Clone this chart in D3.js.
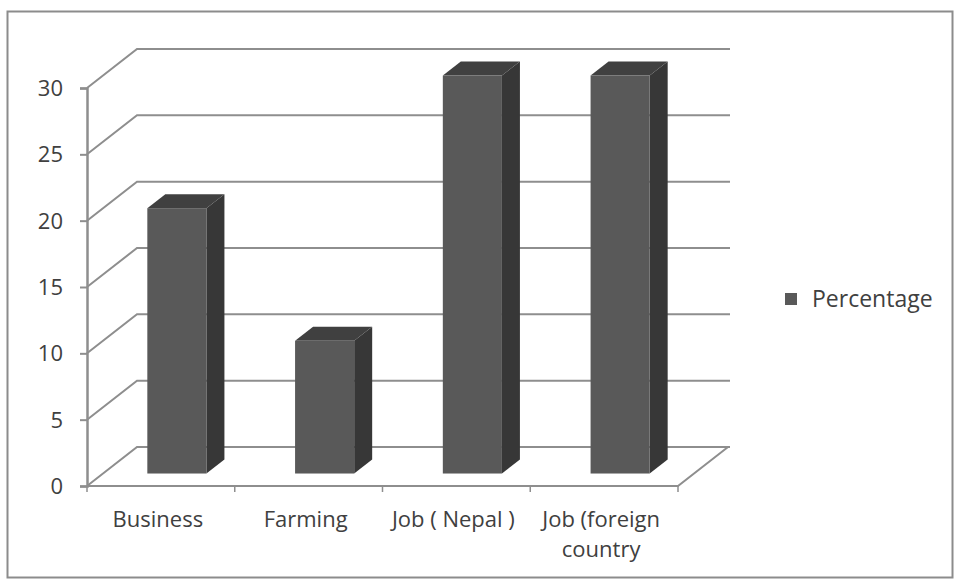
<!DOCTYPE html>
<html>
<head>
<meta charset="utf-8">
<script src="https://cdn.jsdelivr.net/npm/d3@7"></script>
<style>
  html, body { margin: 0; padding: 0; background: #fff; }
  svg { display: block; }
  text { font-family: "Open Sans", "Noto Sans", sans-serif; fill: #404040; }
</style>
</head>
<body>
<svg id="chart" width="955" height="582"></svg>
<script>
// Chart data
const categories = ["Business", "Farming", "Job ( Nepal )", "Job (foreign country"];
const categoryLines = [["Business"], ["Farming"], ["Job ( Nepal )"], ["Job (foreign", "country"]];
const percentage = [20, 10, 30, 30];
const yTicks = [0, 5, 10, 15, 20, 25, 30];
const seriesName = "Percentage";

const svg = d3.select("#chart");

// Outer frame
svg.append("rect")
  .attr("x", 7.5).attr("y", 11.5)
  .attr("width", 945).attr("height", 566)
  .attr("fill", "#fff")
  .attr("stroke", "#8c8c8c").attr("stroke-width", 2);

// Front plane scales
const x = d3.scaleBand().domain(categories).range([87, 678])
  .paddingInner(0.6).paddingOuter(0.3);
const y = d3.scaleLinear().domain([0, 30]).range([486, 88]);

// Oblique depth offset of the back wall
const DX = 50, DY = -39;
const P = (px, py, d) => [px + d * DX, py + d * DY];

const gridColor = "#8e8e8e";
const grid = svg.append("g").attr("fill", "none").attr("stroke", gridColor).attr("stroke-width", 2);

// Left wall diagonals and back wall gridlines
yTicks.forEach(t => {
  const f = P(87, y(t), 0), b = P(87, y(t), 1);
  grid.append("path").attr("d", d3.line()([f, b, [730, b[1]]]));
});

// Floor front and right edges
grid.append("path").attr("d", d3.line()([P(87, y(0), 0), P(678, y(0), 0), P(678, y(0), 1)]));

// Category boundary ticks on the floor front edge
const bounds = [87].concat(categories.map(c => x(c) - x.step() * x.paddingInner() / 2 + x.step()));
bounds.forEach(bx => {
  grid.append("line").attr("x1", bx).attr("x2", bx)
    .attr("y1", y(0)).attr("y2", y(0) + 6).attr("stroke-width", 1.5);
});

// Y axis
const yAxis = d3.axisLeft(y).tickValues(yTicks).tickSize(7).tickPadding(17);
const ag = svg.append("g").attr("transform", "translate(87,0)").call(yAxis);
ag.select(".domain").attr("stroke", gridColor).attr("stroke-width", 2.5);
ag.selectAll(".tick line").attr("stroke", gridColor).attr("stroke-width", 2);
ag.selectAll(".tick text")
  .attr("font-size", 22).attr("font-family", "'Open Sans', sans-serif")
  .attr("fill", "#404040").attr("dy", "0.34em");

// 3D bars
const dF = 0.32, dB = 0.68;
const bars = svg.append("g");
categories.forEach((c, i) => {
  const x0 = x(c), w = x.bandwidth();
  const y0 = y(0), y1 = y(percentage[i]);
  const g = bars.append("g");
  // right side
  g.append("path")
    .attr("d", d3.line()([P(x0 + w, y1, dF), P(x0 + w, y1, dB), P(x0 + w, y0, dB), P(x0 + w, y0, dF)]) + "Z")
    .attr("fill", "#373737");
  // top
  g.append("path")
    .attr("d", d3.line()([P(x0, y1, dF), P(x0 + w, y1, dF), P(x0 + w, y1, dB), P(x0, y1, dB)]) + "Z")
    .attr("fill", "#404040");
  // front
  const fp = P(x0, y1, dF);
  g.append("rect")
    .attr("x", fp[0]).attr("y", fp[1])
    .attr("width", w).attr("height", y0 - y1)
    .attr("fill", "#595959");
});

// Category labels
categories.forEach((c, i) => {
  const cx = x(c) + x.bandwidth() / 2 - 3;
  const t = svg.append("text")
    .attr("x", cx).attr("y", 527)
    .attr("text-anchor", "middle")
    .attr("font-size", 22);
  categoryLines[i].forEach((line, k) => {
    t.append("tspan").attr("x", cx).attr("dy", k === 0 ? 0 : 30).text(line);
  });
});

// Legend
const lg = svg.append("g").attr("transform", "translate(785,293)");
lg.append("rect").attr("width", 12).attr("height", 12).attr("fill", "#595959");
lg.append("text").attr("x", 27).attr("y", 6).attr("dy", "0.36em")
  .attr("font-size", 23).text(seriesName);
</script>
</body>
</html>
